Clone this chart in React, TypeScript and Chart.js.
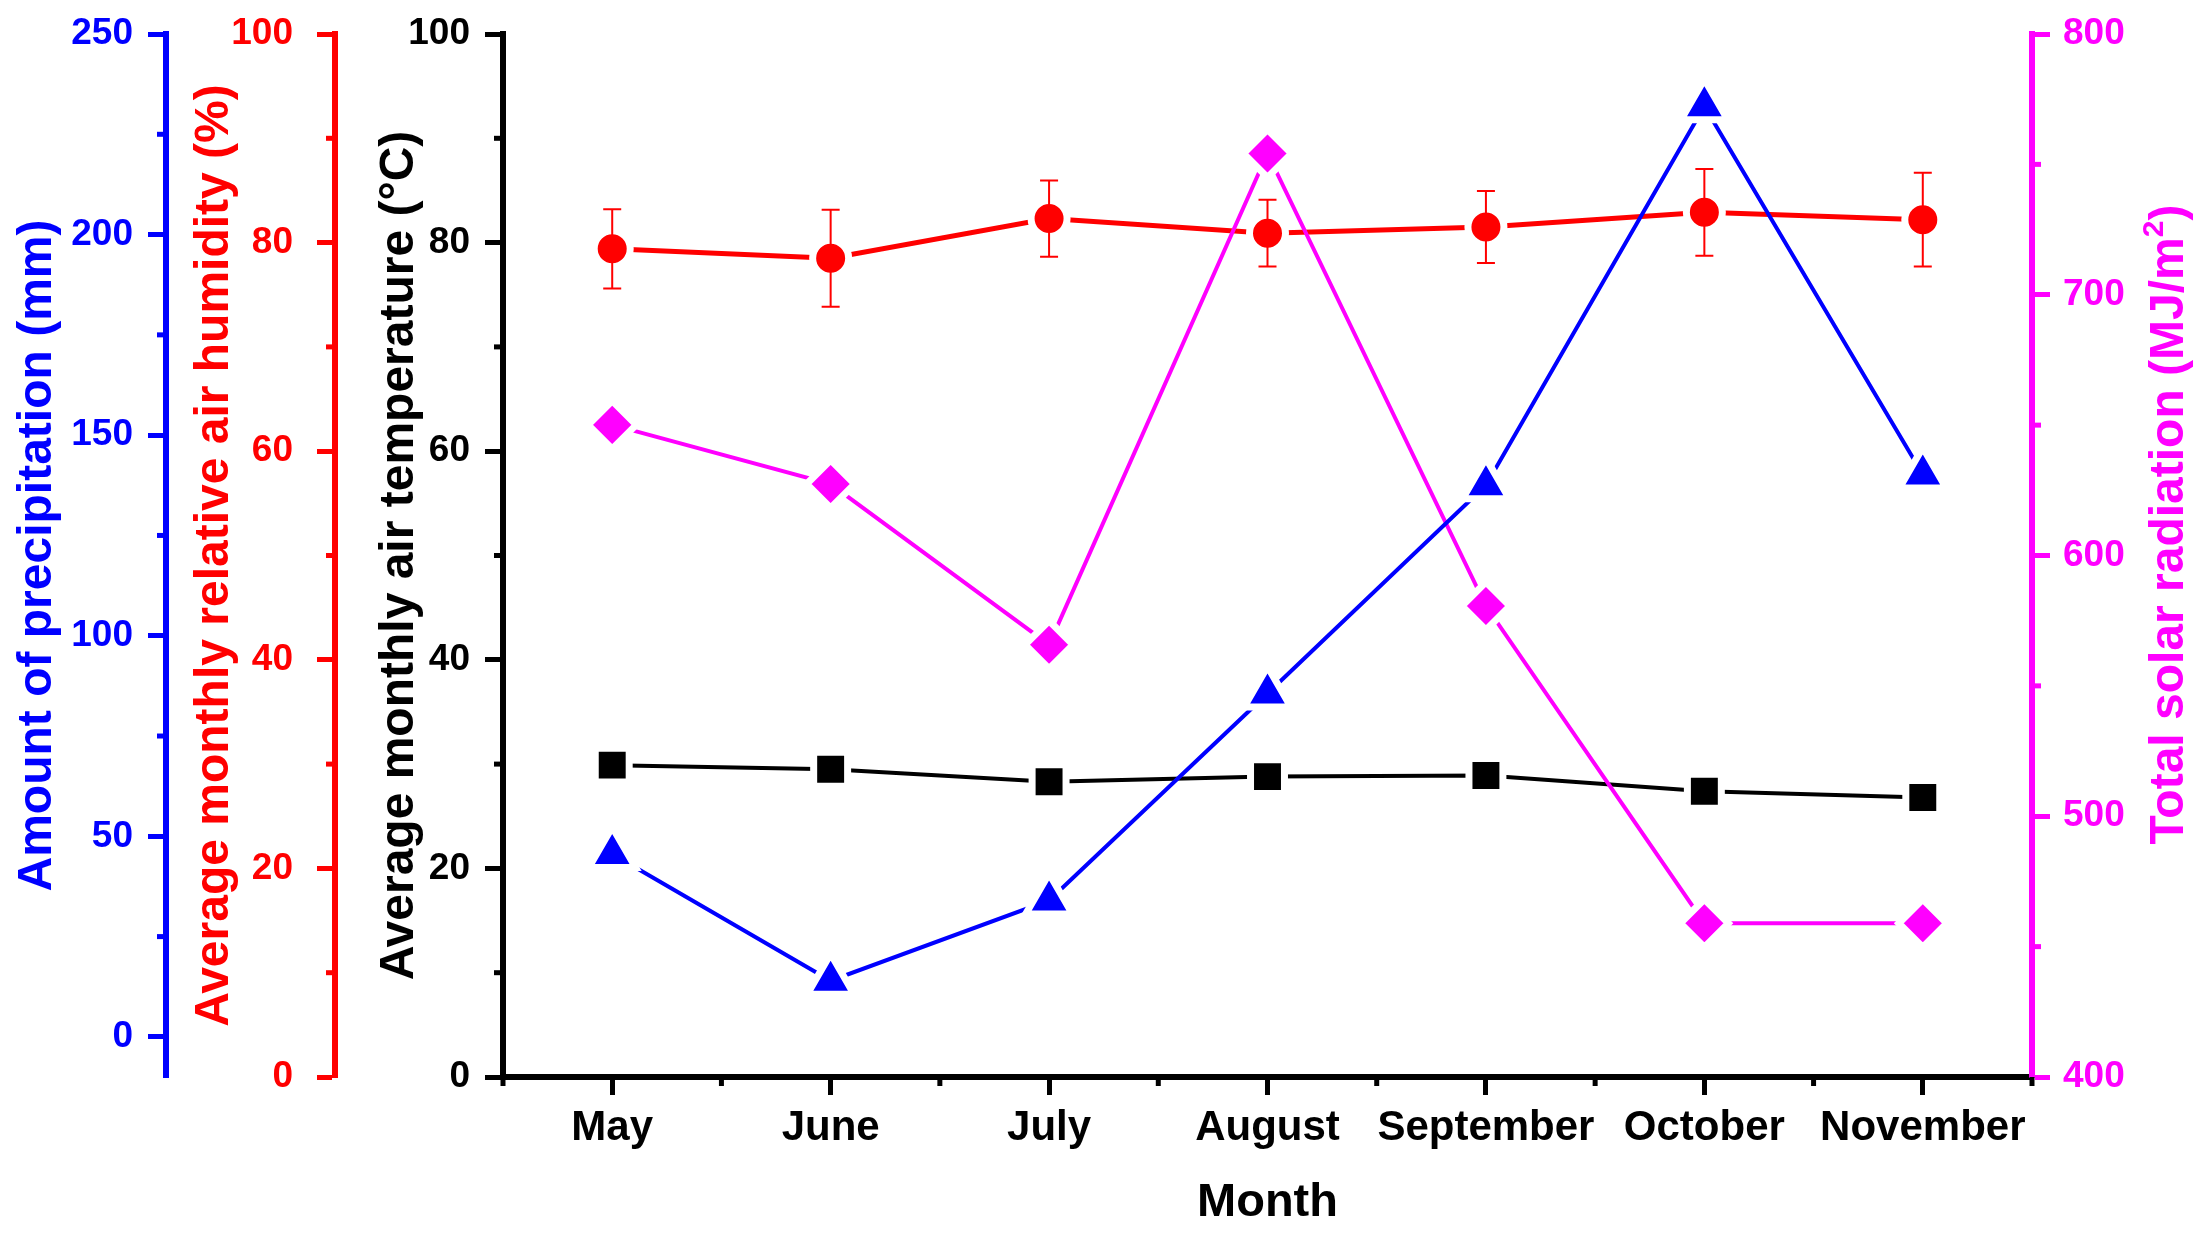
import React, { useEffect, useRef } from 'react';
import { Chart, registerables } from 'chart.js';

Chart.register(...registerables);

// ---------- data ----------
const months = ['May', 'June', 'July', 'August', 'September', 'October', 'November'];
const temperature = [29.9, 29.5, 28.3, 28.8, 28.9, 27.4, 26.8];
const humidity = [79.4, 78.5, 82.3, 80.9, 81.5, 82.9, 82.2];
const humidityErr = [3.8, 4.65, 3.65, 3.2, 3.45, 4.15, 4.5];
const precipitation = [45.6, 14.0, 34.0, 85.6, 137.5, 232.0, 140.2];
const radiation = [650.1, 627.4, 565.8, 754.2, 580.6, 459.0, 459.0];

const precTicks = [0, 50, 100, 150, 200, 250];
const precMinor = [25, 75, 125, 175, 225];
const humTicks = [0, 20, 40, 60, 80, 100];
const humMinor = [10, 30, 50, 70, 90];
const tempTicks = [0, 20, 40, 60, 80, 100];
const tempMinor = [10, 30, 50, 70, 90];
const radTicks = [400, 500, 600, 700, 800];
const radMinor = [450, 550, 650, 750];

// ---------- style ----------
const FONT = '"Liberation Sans", Arial, Helvetica, sans-serif';
const BLUE = '#0000FF';
const RED = '#FF0000';
const MAG = '#FF00FF';
const BLK = '#000000';
const W = 2211;
const H = 1244;

const yAxis = (opts: any) => {
  const { color, min, max, ticks, position, weight, width, labelPad, title, titlePad } = opts;
  return {
    type: 'linear',
    position,
    weight,
    min,
    max,
    afterBuildTicks: (s: any) => {
      s.ticks = ticks.map((v: number) => ({ value: v }));
    },
    afterFit: (s: any) => {
      s.width = width;
      s.paddingTop = 0;
      s.paddingBottom = 0;
    },
    border: { display: true, color, width: 6 },
    grid: {
      display: true,
      drawOnChartArea: false,
      drawTicks: true,
      tickLength: 18,
      tickWidth: 5,
      tickColor: color,
      color,
    },
    ticks: {
      color,
      padding: labelPad,
      font: { family: FONT, size: 37, weight: 'bold' },
    },
    title: title
      ? {
          display: true,
          text: title,
          color,
          font: { family: FONT, size: 48, weight: 'bold', lineHeight: 1.2 },
          padding: { top: titlePad, bottom: 0 },
        }
      : { display: false },
  };
};

const axisDecor = {
  id: 'axisDecor',
  afterDraw(chart: any) {
    const ctx = chart.ctx;
    const drawY = (id: string, vals: number[], color: string, side: string) => {
      const s = chart.scales[id];
      const x0 = side === 'left' ? s.right : s.left;
      ctx.save();
      ctx.strokeStyle = color;
      ctx.lineWidth = 5;
      vals.forEach((v) => {
        const y = s.getPixelForValue(v);
        ctx.beginPath();
        ctx.moveTo(x0, y);
        ctx.lineTo(side === 'left' ? x0 - 9 : x0 + 9, y);
        ctx.stroke();
      });
      ctx.restore();
    };
    drawY('yPrec', precMinor, BLUE, 'left');
    drawY('yHum', humMinor, RED, 'left');
    drawY('yTemp', tempMinor, BLK, 'left');
    drawY('yRad', radMinor, MAG, 'right');

    // x minor ticks at category boundaries
    const xs = chart.scales.x;
    ctx.save();
    ctx.strokeStyle = BLK;
    ctx.lineWidth = 5;
    for (let i = 0; i <= months.length; i++) {
      const px = xs.getPixelForValue(i - 0.5);
      ctx.beginPath();
      ctx.moveTo(px, xs.top);
      ctx.lineTo(px, xs.top + 9);
      ctx.stroke();
    }
    ctx.restore();

    // right axis title (reads bottom to top), with superscript
    const r = chart.scales.yRad;
    ctx.save();
    ctx.translate(r.left + 151, (r.top + r.bottom) / 2 - 31);
    ctx.rotate(-Math.PI / 2);
    ctx.fillStyle = MAG;
    ctx.textBaseline = 'alphabetic';
    ctx.textAlign = 'left';
    const mainFont = `bold 48px ${FONT}`;
    const supFont = `bold 30px ${FONT}`;
    const main = 'Total solar radiation (MJ/m';
    const sup = '2';
    const close = ')';
    ctx.font = mainFont;
    const wMain = ctx.measureText(main).width;
    const wClose = ctx.measureText(close).width;
    ctx.font = supFont;
    const wSup = ctx.measureText(sup).width;
    let x = -(wMain + wSup + wClose) / 2;
    ctx.font = mainFont;
    ctx.fillText(main, x, 0);
    x += wMain;
    ctx.font = supFont;
    ctx.fillText(sup, x, -20);
    x += wSup;
    ctx.font = mainFont;
    ctx.fillText(close, x, 0);
    ctx.restore();
  },
};

const errorBars = {
  id: 'errorBars',
  afterDatasetsDraw(chart: any) {
    const ctx = chart.ctx;
    const xs = chart.scales.x;
    const ys = chart.scales.yHum;
    ctx.save();
    ctx.strokeStyle = RED;
    ctx.lineWidth = 2;
    humidity.forEach((v, i) => {
      const x = xs.getPixelForValue(i);
      const yT = ys.getPixelForValue(v + humidityErr[i]);
      const yB = ys.getPixelForValue(v - humidityErr[i]);
      ctx.beginPath();
      ctx.moveTo(x, yT);
      ctx.lineTo(x, yB);
      ctx.moveTo(x - 9, yT);
      ctx.lineTo(x + 9, yT);
      ctx.moveTo(x - 9, yB);
      ctx.lineTo(x + 9, yB);
      ctx.stroke();
    });
    ctx.restore();
  },
};

export default function App() {
  const ref = useRef<HTMLCanvasElement | null>(null);

  useEffect(() => {
    if (!ref.current) return;
    const chart = new Chart(ref.current, {
      type: 'line',
      data: {
        labels: months,
        datasets: [
          {
            label: 'Amount of precipitation',
            data: precipitation,
            yAxisID: 'yPrec',
            borderColor: BLUE,
            borderWidth: 4,
            pointStyle: 'triangle',
            pointRadius: 27,
            pointBackgroundColor: BLUE,
            pointBorderColor: '#FFFFFF',
            pointBorderWidth: 7,
            tension: 0,
          },
          {
            label: 'Total solar radiation',
            data: radiation,
            yAxisID: 'yRad',
            borderColor: MAG,
            borderWidth: 4,
            pointStyle: 'rectRot',
            pointRadius: 24,
            pointBackgroundColor: MAG,
            pointBorderColor: '#FFFFFF',
            pointBorderWidth: 7,
            tension: 0,
          },
          {
            label: 'Average monthly relative air humidity',
            data: humidity,
            yAxisID: 'yHum',
            borderColor: RED,
            borderWidth: 5,
            pointStyle: 'circle',
            pointRadius: 18,
            pointBackgroundColor: RED,
            pointBorderColor: '#FFFFFF',
            pointBorderWidth: 7,
            tension: 0,
          },
          {
            label: 'Average monthly air temperature',
            data: temperature,
            yAxisID: 'yTemp',
            borderColor: BLK,
            borderWidth: 4,
            pointStyle: 'rect',
            pointRadius: 24,
            pointBackgroundColor: BLK,
            pointBorderColor: '#FFFFFF',
            pointBorderWidth: 7,
            tension: 0,
          },
        ],
      },
      options: {
        responsive: false,
        animation: false,
        devicePixelRatio: 1,
        layout: { padding: { left: 8, top: 32, right: 0, bottom: 0 } },
        plugins: {
          legend: { display: false },
          tooltip: { enabled: false },
        },
        events: [],
        scales: {
          x: {
            type: 'category',
            position: 'bottom',
            offset: true,
            afterFit: (s: any) => {
              s.height = 167;
            },
            border: { display: true, color: BLK, width: 6 },
            grid: {
              display: true,
              offset: false,
              drawOnChartArea: false,
              drawTicks: true,
              tickLength: 18,
              tickWidth: 5,
              tickColor: BLK,
              color: BLK,
            },
            ticks: {
              color: BLK,
              padding: 8,
              autoSkip: false,
              maxRotation: 0,
              minRotation: 0,
              font: { family: FONT, size: 42, weight: 'bold' },
            },
            title: {
              display: true,
              text: 'Month',
              color: BLK,
              font: { family: FONT, size: 47, weight: 'bold', lineHeight: 1.2 },
              padding: { top: 0, bottom: 13 },
            },
          },
          yPrec: yAxis({
            color: BLUE, min: -10, max: 250, ticks: precTicks, position: 'left', weight: 3,
            width: 158, labelPad: 15, title: 'Amount of precipitation (mm)', titlePad: 1,
          }),
          yHum: yAxis({
            color: RED, min: 0, max: 100, ticks: humTicks, position: 'left', weight: 2,
            width: 169, labelPad: 24, title: 'Average monthly relative air humidity (%)', titlePad: 20,
          }),
          yTemp: yAxis({
            color: BLK, min: 0, max: 100, ticks: tempTicks, position: 'left', weight: 1,
            width: 168, labelPad: 15, title: 'Average monthly air temperature (°C)', titlePad: 36,
          }),
          yRad: yAxis({
            color: MAG, min: 400, max: 800, ticks: radTicks, position: 'right', weight: 1,
            width: 179, labelPad: 13, title: null, titlePad: 0,
          }),
        },
      } as any,
      plugins: [axisDecor, errorBars],
    });
    return () => chart.destroy();
  }, []);

  return (
    <div style={{ position: 'absolute', left: 0, top: 0, width: W, height: H, background: '#FFFFFF' }}>
      <canvas ref={ref} width={W} height={H} style={{ display: 'block', width: W, height: H }} />
    </div>
  );
}
